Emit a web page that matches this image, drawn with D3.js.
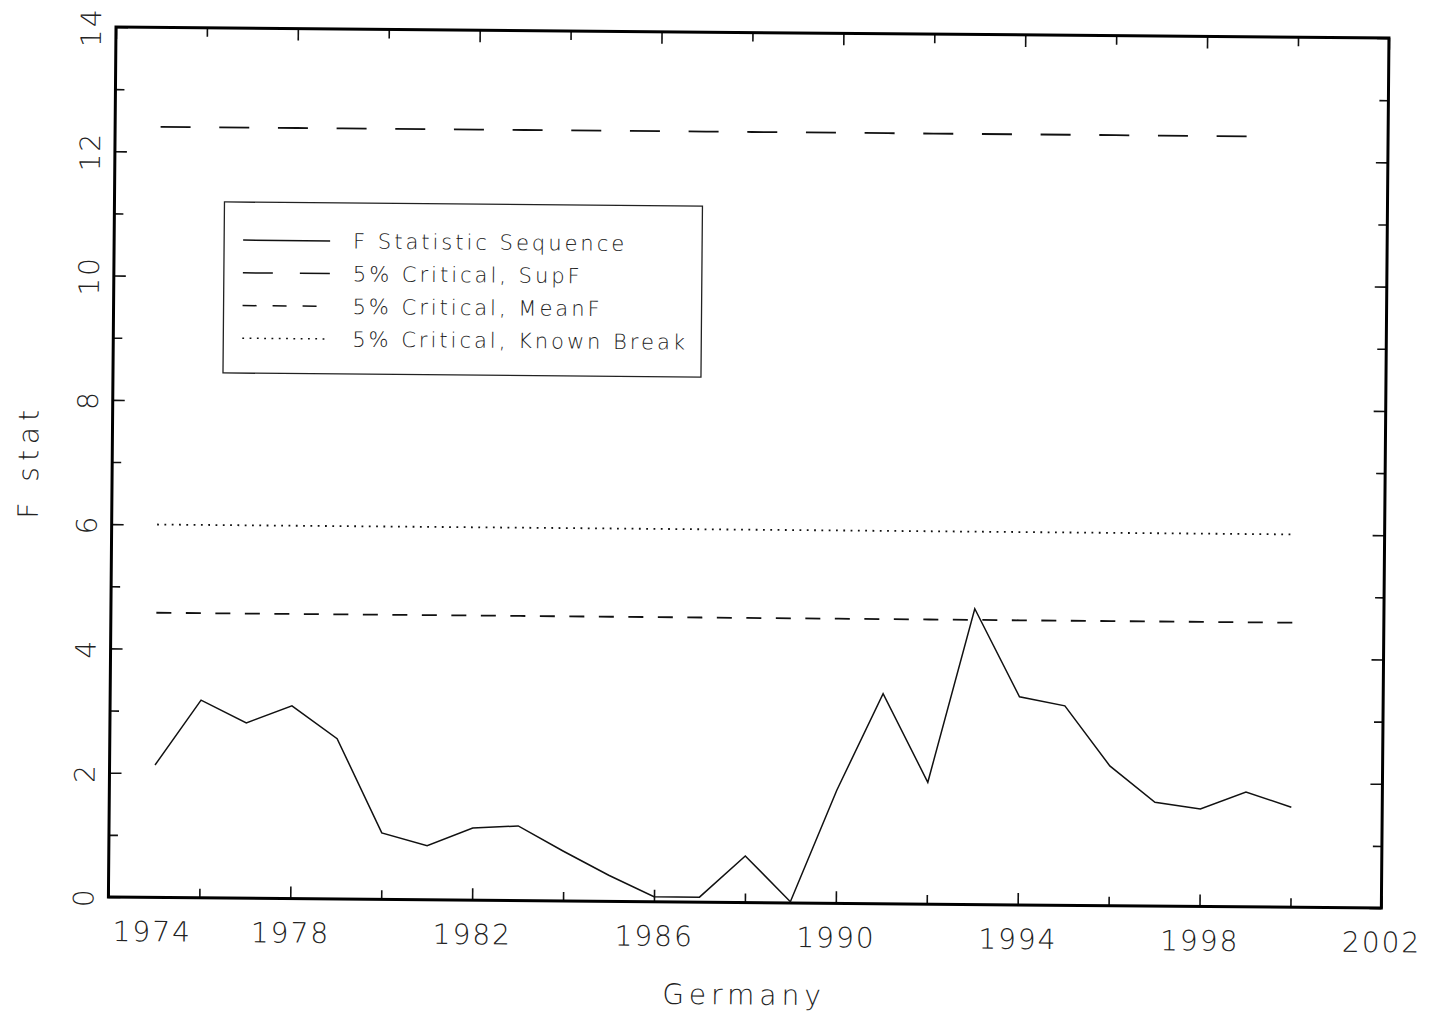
<!DOCTYPE html>
<html>
<head>
<meta charset="utf-8">
<script src="https://cdn.jsdelivr.net/npm/d3@7/dist/d3.min.js"></script>
<style>
  html, body { margin: 0; padding: 0; background: #fff; }
  svg { display: block; }
  text { font-family: "DejaVu Sans", "Liberation Sans", sans-serif; font-weight: 200; fill: #222; }
</style>
</head>
<body>
<svg id="chart" width="1441" height="1023"></svg>
<script>
// ---- data ----
const years = [1975,1976,1977,1978,1979,1980,1981,1982,1983,1984,1985,1986,1987,1988,1989,1990,1991,1992,1993,1994,1995,1996,1997,1998,1999,2000];
const fStat = [2.13,3.18,2.82,3.10,2.58,1.07,0.87,1.16,1.20,0.80,0.42,0.08,0.08,0.75,0.02,1.82,3.38,1.96,4.76,3.35,3.21,2.25,1.67,1.57,1.85,1.61];
const supF = [12.4,12.4,12.4,12.4,12.4,12.4,12.4,12.4,12.4,12.4,12.4,12.4,12.4,12.4,12.4,12.4,12.4,12.4,12.4,12.4,12.4,12.4,12.4,12.4,12.4,null];
const meanF = [4.58,4.58,4.58,4.58,4.58,4.58,4.58,4.58,4.58,4.58,4.58,4.58,4.58,4.58,4.58,4.58,4.58,4.58,4.58,4.58,4.58,4.58,4.58,4.58,4.58,4.58];
const knownBreak = [6.0,6.0,6.0,6.0,6.0,6.0,6.0,6.0,6.0,6.0,6.0,6.0,6.0,6.0,6.0,6.0,6.0,6.0,6.0,6.0,6.0,6.0,6.0,6.0,6.0,6.0];
const xMajorTicks = [1974,1978,1982,1986,1990,1994,1998,2002];
const xMinorTicks = [1976,1980,1984,1988,1992,1996,2000];
const yMajorTicks = [0,2,4,6,8,10,12,14];
const yMinorTicks = [1,3,5,7,9,11,13];
const legendLabels = ["F Statistic Sequence","5% Critical, SupF","5% Critical, MeanF","5% Critical, Known Break"];
const xTitle = "Germany";
const yTitle = "F stat";

// ---- layout ----
const W = 1273, H = 870;
const svg = d3.select("#chart");
const g = svg.append("g").attr("transform", "translate(116,27) rotate(0.5)");

const x = d3.scaleLinear().domain([1974, 2002]).range([0, W]);
const y = d3.scaleLinear().domain([0, 14]).range([H, 0]);

const majorLen = 12, minorLen = 9;

function styleAxis(sel) {
  sel.select(".domain").remove();
  sel.selectAll(".tick line").attr("stroke", "#111").attr("stroke-width", 1.6);
}

// bottom major with labels
const bx = g.append("g").attr("transform", `translate(0,${H})`)
  .call(d3.axisBottom(x).tickValues(xMajorTicks).tickFormat(d3.format("d")).tickSizeInner(-majorLen).tickSizeOuter(0).tickPadding(0));
styleAxis(bx);
bx.selectAll(".tick text")
  .attr("y", 44).attr("dy", 0)
  .style("font-size", "28px").style("letter-spacing", "2px")
  .attr("text-anchor", (d, i) => i === 0 ? "start" : "middle")
  .attr("dx", (d, i) => i === 0 ? 4 : 0);
// bottom minor
styleAxis(g.append("g").attr("transform", `translate(0,${H})`)
  .call(d3.axisBottom(x).tickValues(xMinorTicks).tickFormat("").tickSizeInner(-minorLen).tickSizeOuter(0)));
// top
styleAxis(g.append("g").call(d3.axisTop(x).tickValues(xMajorTicks).tickFormat("").tickSizeInner(-majorLen).tickSizeOuter(0)));
styleAxis(g.append("g").call(d3.axisTop(x).tickValues(xMinorTicks).tickFormat("").tickSizeInner(-minorLen).tickSizeOuter(0)));

// left major with labels
const ly = g.append("g")
  .call(d3.axisLeft(y).tickValues(yMajorTicks).tickFormat(d3.format("d")).tickSizeInner(-majorLen).tickSizeOuter(0));
styleAxis(ly);
ly.selectAll(".tick text")
  .attr("x", 0).attr("dy", 0)
  .attr("text-anchor", "middle")
  .attr("transform", "translate(-15,0) rotate(-90)")
  .style("font-size", "28px").style("letter-spacing", "2px");
styleAxis(g.append("g").call(d3.axisLeft(y).tickValues(yMinorTicks).tickFormat("").tickSizeInner(-minorLen).tickSizeOuter(0)));
// right
styleAxis(g.append("g").attr("transform", `translate(${W},0)`)
  .call(d3.axisRight(y).tickValues(yMajorTicks).tickFormat("").tickSizeInner(-majorLen).tickSizeOuter(0)));
styleAxis(g.append("g").attr("transform", `translate(${W},0)`)
  .call(d3.axisRight(y).tickValues(yMinorTicks).tickFormat("").tickSizeInner(-minorLen).tickSizeOuter(0)));

// frame
g.append("rect").attr("x", 0).attr("y", 0).attr("width", W).attr("height", H)
  .attr("fill", "none").attr("stroke", "#000").attr("stroke-width", 3);

// series
const series = [
  { vals: fStat, dash: null, width: 1.5 },
  { vals: supF, dash: "30,28.67", width: 1.8 },
  { vals: meanF, dash: "15,14.5", width: 1.8 },
  { vals: knownBreak, dash: "1.8,5.5", width: 1.8 }
];
const line = d3.line().defined(d => d[1] != null).x(d => x(d[0])).y(d => y(d[1]));
series.forEach(s => {
  g.append("path")
    .datum(years.map((yr, i) => [yr, s.vals[i]]))
    .attr("d", line)
    .attr("fill", "none")
    .attr("stroke", "#111")
    .attr("stroke-width", s.width)
    .attr("stroke-linejoin", "miter")
    .attr("stroke-dasharray", s.dash);
});

// legend
const leg = g.append("g").attr("transform", "translate(110,174)");
leg.append("rect").attr("width", 478).attr("height", 171)
  .attr("fill", "#fff").attr("stroke", "#222").attr("stroke-width", 1.3);
const legDash = [null, "30,27", "14,16", "1.8,5.5"];
legendLabels.forEach((lab, i) => {
  const cy = 38 + i * 32.7;
  leg.append("line").attr("x1", 19).attr("x2", 106).attr("y1", cy).attr("y2", cy)
    .attr("stroke", "#111").attr("stroke-width", 1.5).attr("stroke-dasharray", legDash[i]);
  leg.append("text").attr("x", 129).attr("y", cy + 7.5)
    .style("font-size", "21px").style("letter-spacing", "3px").text(lab);
});

// axis titles
g.append("text").attr("x", W / 2).attr("y", H + 102).attr("text-anchor", "middle")
  .style("font-size", "28px").style("letter-spacing", "5px").text(xTitle);
g.append("text").attr("text-anchor", "middle")
  .attr("transform", `translate(-74,${H / 2}) rotate(-90)`)
  .style("font-size", "28px").style("letter-spacing", "6px").text(yTitle);
</script>
</body>
</html>
